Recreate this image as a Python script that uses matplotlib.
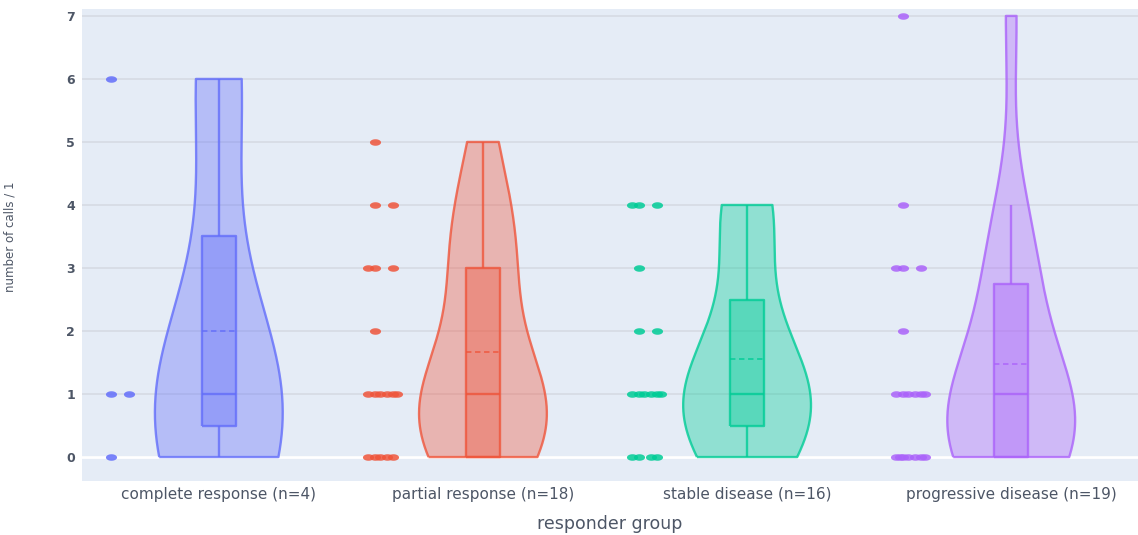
import numpy as np
import matplotlib
matplotlib.use("Agg")
import matplotlib.pyplot as plt
from matplotlib.path import Path

# values (number of calls per patient)
groups = ["complete response", "partial response", "stable disease", "progressive disease"]
complete = [0, 1, 1, 6]
partial = [0, 0, 0, 0, 0, 1, 1, 1, 1, 1, 1, 2, 3, 3, 3, 4, 4, 5]
stable = [0, 0, 0, 0, 1, 1, 1, 1, 1, 1, 2, 2, 3, 4, 4, 4]
progressive = [0, 0, 0, 0, 0, 0, 0, 1, 1, 1, 1, 1, 1, 2, 3, 3, 3, 4, 7]
colors = ["#636EFA", "#EF553B", "#00CC96", "#AB63FA"]

y_ticks = [0, 1, 2, 3, 4, 5, 6, 7]

HALF_W = 0.242      # max half width of each violin
BOX_HW = 0.064      # half width of inner box
PT_OFF = -0.38      # where the points sit, left of the violin
JITTER = [-0.03, 0.04, -0.055, 0.015, -0.01, 0.055, -0.04, 0.03]

TXT = "#4d5666"
BG = "#E5ECF6"


def silverman(vals, q1, q3):
    ssd = np.std(vals, ddof=1)
    a = min(ssd, (q3 - q1) / 1.349)
    if a <= 0:
        a = ssd
    return 1.059 * a * len(vals) ** -0.2


def draw_group(ax, pos, vals, color):
    vals = np.asarray(vals, dtype=float)
    q1, med, q3 = np.percentile(vals, [25, 50, 75], method="hazen")
    iqr = q3 - q1
    lo = vals[vals >= q1 - 1.5 * iqr].min()
    hi = vals[vals <= q3 + 1.5 * iqr].max()
    mean = vals.mean()
    lc = dict(color=color, alpha=0.8, lw=1.7, solid_capstyle="butt")

    # violin (gaussian kde, hard span)
    bw = silverman(vals, q1, q3)
    ys = np.linspace(vals.min(), vals.max(), 300)
    dens = np.exp(-0.5 * ((ys[:, None] - vals[None, :]) / bw) ** 2).sum(axis=1)
    w = dens / dens.max() * HALF_W
    xs = np.concatenate([pos - w, (pos + w)[::-1]])
    yy = np.concatenate([ys, ys[::-1]])
    ax.fill(xs, yy, facecolor=color, alpha=0.37, edgecolor="none", zorder=2)
    ax.plot(np.append(xs, xs[0]), np.append(yy, yy[0]), zorder=3, **lc)

    # inner box
    ax.fill([pos - BOX_HW, pos + BOX_HW, pos + BOX_HW, pos - BOX_HW],
            [q1, q1, q3, q3], facecolor=color, alpha=0.38, edgecolor="none", zorder=4)
    ax.plot([pos - BOX_HW, pos + BOX_HW, pos + BOX_HW, pos - BOX_HW, pos - BOX_HW],
            [q1, q1, q3, q3, q1], zorder=5, **lc)
    ax.plot([pos, pos], [q3, hi], zorder=5, **lc)
    ax.plot([pos, pos], [lo, q1], zorder=5, **lc)
    ax.plot([pos - BOX_HW, pos + BOX_HW], [med, med], zorder=5, **lc)
    ax.plot([pos - BOX_HW, pos + BOX_HW], [mean, mean], color=color, alpha=0.8,
            lw=1.3, ls=(0, (3, 2)), zorder=5)

    # all points, jittered left of the violin
    seen = {}
    px = []
    for v in vals:
        k = seen.get(v, 0)
        seen[v] = k + 1
        px.append(pos + PT_OFF + JITTER[k % len(JITTER)])
    t = np.linspace(0, 2 * np.pi, 40)
    ell = Path(np.column_stack([1.7 * np.cos(t), np.sin(t)]), closed=True)
    ax.plot(px, vals, ls="none", marker=ell, ms=8, color=color, alpha=0.85,
            markeredgewidth=0, zorder=6)


fig = plt.figure(figsize=(11.38, 5.35), dpi=100)
ax = fig.add_axes([82 / 1138, 54 / 535, 1 - 82 / 1138, 472 / 535])
ax.set_facecolor(BG)

data = [complete, partial, stable, progressive]
for i, (vals, c) in enumerate(zip(data, colors)):
    draw_group(ax, i, vals, c)

ax.set_xlim(-0.518, 3.48)
ax.set_ylim(-0.38, 7.11)
ax.set_yticks(y_ticks)
ax.set_xticks(range(len(groups)))
ax.set_xticklabels([f"{g} (n={len(v)})" for g, v in zip(groups, data)])
ax.tick_params(axis="both", length=0, colors=TXT)
ax.tick_params(axis="x", pad=4, labelsize=11)
ax.tick_params(axis="y", pad=5, labelsize=9)
for lab in ax.get_yticklabels():
    lab.set_fontweight("bold")

ax.grid(axis="y", color="#d6dbe3", lw=1.2, zorder=0)
ax.set_axisbelow(True)
ax.axhline(0, color="white", lw=2, zorder=1)
for s in ax.spines.values():
    s.set_visible(False)

ax.set_xlabel("responder group", fontsize=12.5, color=TXT, labelpad=10)
ax.set_ylabel("number of calls / 1", fontsize=8.5, color=TXT)
ax.yaxis.set_label_coords(-0.0616, 0.518)

fig.savefig("out.png", dpi=100, facecolor="white")
